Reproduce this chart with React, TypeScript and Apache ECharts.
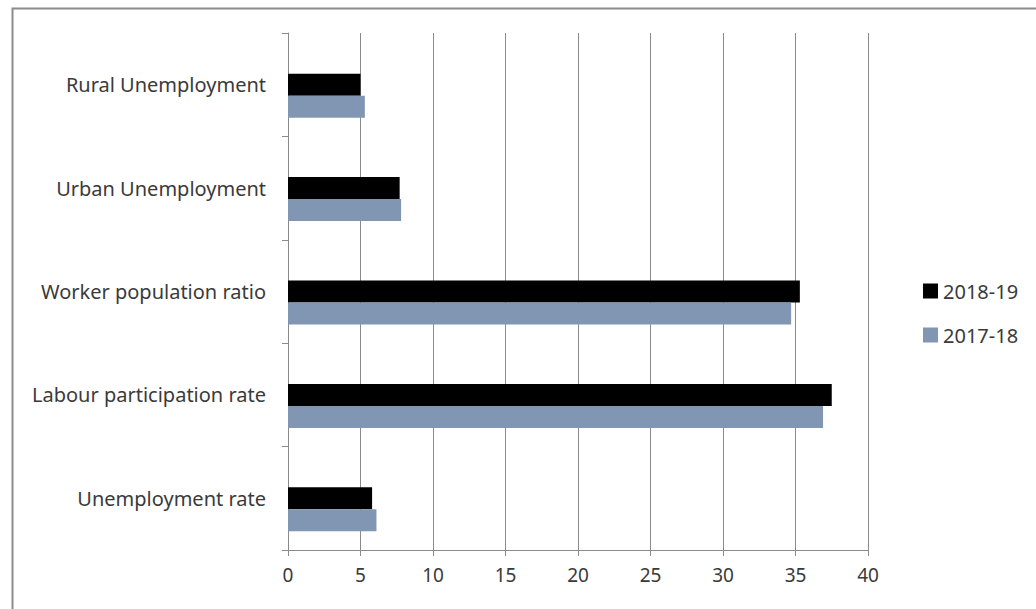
import React, { useEffect, useRef } from "react";
import * as echarts from "echarts";

const categories = [
  "Unemployment rate",
  "Labour participation rate",
  "Worker population ratio",
  "Urban Unemployment",
  "Rural Unemployment",
];
const values2018_19 = [5.8, 37.5, 35.3, 7.7, 5.0];
const values2017_18 = [6.1, 36.9, 34.7, 7.8, 5.3];
const seriesNames = ["2018-19", "2017-18"];
const xTicks = { min: 0, max: 40, interval: 5 };

const FONT = "'Noto Sans', 'Open Sans', sans-serif";
const TEXT = "#3a3a3a";
const GRID = "#8a8a8a";

export default function App() {
  const ref = useRef<HTMLDivElement>(null);
  useEffect(() => {
    if (!ref.current) return;
    const chart = echarts.init(ref.current, undefined, { renderer: "svg" });
    chart.setOption({
      animation: false,
      backgroundColor: "#ffffff",
      grid: { left: 288, right: 168, top: 33, bottom: 59, containLabel: false },
      legend: {
        orient: "vertical",
        left: 918,
        top: 276,
        data: seriesNames,
        icon: "rect",
        itemWidth: 15,
        itemHeight: 15,
        itemGap: 24,
        textStyle: { fontFamily: FONT, fontSize: 20, lineHeight: 20, color: TEXT },
      },
      xAxis: {
        type: "value",
        min: xTicks.min,
        max: xTicks.max,
        interval: xTicks.interval,
        axisLine: { show: true, lineStyle: { color: GRID, width: 1 } },
        axisTick: { show: true, length: 6, lineStyle: { color: GRID } },
        axisLabel: { fontFamily: FONT, fontSize: 19, color: TEXT, margin: 15 },
        splitLine: { show: true, lineStyle: { color: GRID, width: 1 } },
      },
      yAxis: {
        type: "category",
        data: categories,
        axisLine: { show: true, lineStyle: { color: GRID, width: 1 } },
        axisTick: { show: true, length: 6, lineStyle: { color: GRID } },
        axisLabel: { fontFamily: FONT, fontSize: 20, color: TEXT, margin: 22 },
        splitLine: { show: false },
      },
      series: [
        {
          name: "_spacer",
          type: "bar",
          data: categories.map(() => null),
          barWidth: 22,
          barGap: "0%",
          silent: true,
        },
        {
          name: seriesNames[0],
          type: "bar",
          data: values2018_19,
          barWidth: 22,
          barGap: "0%",
          itemStyle: { color: "#000000" },
        },
        {
          name: seriesNames[1],
          type: "bar",
          data: values2017_18,
          barWidth: 22,
          barGap: "0%",
          itemStyle: { color: "#8196b3" },
        },
      ],
      graphic: [
        {
          type: "rect",
          left: 10,
          top: 6,
          shape: { x: 0, y: 0, width: 1100, height: 700 },
          style: { fill: "none", stroke: "#8c8c8c", lineWidth: 2 },
          silent: true,
        },
      ],
    });
    return () => chart.dispose();
  }, []);
  return (
    <div
      ref={ref}
      style={{ position: "fixed", left: 0, top: 0, width: 1036, height: 609, background: "#fff" }}
    />
  );
}
